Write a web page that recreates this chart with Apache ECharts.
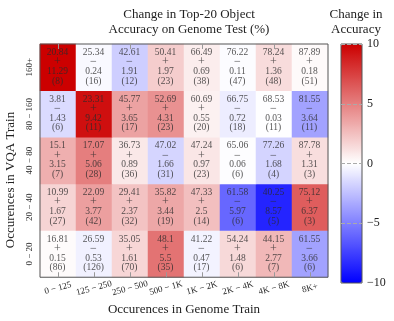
<!DOCTYPE html>
<html>
<head>
<meta charset="utf-8">
<script src="https://cdn.jsdelivr.net/npm/echarts@6/dist/echarts.min.js"></script>
<style>
  html, body { margin: 0; padding: 0; background: #fff; }
  #chart { width: 394px; height: 321px; }
</style>
</head>
<body>
<div id="chart"></div>
<script>
// categories
const xCats = ['0 − 125', '125 − 250', '250 − 500', '500 − 1K', '1K − 2K', '2K − 4K', '4K − 8K', '8K+'];
const yCats = ['0 − 20', '20 − 40', '40 − 80', '80 − 160', '160+']; // bottom -> top

// top-20 accuracy (rows bottom -> top)
const accuracy = [
  [16.81, 26.59, 35.05, 48.1, 41.22, 54.24, 44.15, 61.55],
  [10.99, 22.09, 29.41, 35.82, 47.33, 61.58, 40.25, 75.12],
  [15.1, 17.07, 36.73, 47.02, 47.24, 65.06, 77.26, 87.78],
  [3.81, 23.31, 45.77, 52.69, 60.69, 66.75, 68.53, 81.55],
  [20.84, 25.34, 42.61, 50.41, 66.49, 76.22, 78.24, 87.89]
]

// change in accuracy (signed)
const change = [
  [0.15, -0.53, 1.61, 5.5, -0.47, 1.48, 2.77, -3.66],
  [1.67, 3.77, 2.37, 3.44, 2.5, -5.97, -8.57, 6.37],
  [3.15, 5.06, 0.89, -1.66, 0.97, -0.06, -1.68, 1.31],
  [-1.43, 9.42, 3.65, 4.31, 0.55, -0.72, -0.03, -3.64],
  [11.29, -0.24, -1.91, 1.97, 0.69, -0.11, 1.36, 0.18]
]

// number of objects
const counts = [
  [86, 126, 70, 35, 17, 6, 7, 6],
  [27, 42, 32, 19, 14, 6, 5, 3],
  [7, 28, 36, 31, 23, 6, 4, 3],
  [6, 11, 17, 23, 20, 18, 11, 11],
  [8, 16, 12, 23, 38, 47, 48, 51]
]

const colorMin = -10
const colorMax = 10

const serif = 'Liberation Serif'
const textCol = '#2a2a2a'

// heatmap data: [x, y, change, accuracy, count]
const cells = []
for (let r = 0; r < yCats.length; r++) {
  for (let c = 0; c < xCats.length; c++) {
    cells.push([c, r, change[r][c], accuracy[r][c], counts[r][c]])
  }
}

const chart = echarts.init(document.getElementById('chart'))

const option = {
  animation: false,
  backgroundColor: '#fff',
  title: [
    {
      text: 'Change in Top-20 Object\nAccuracy on Genome Test (%)',
      left: 184,
      textAlign: 'center',
      top: 2,
      textStyle: { fontFamily: serif, fontWeight: 'normal', fontSize: 13, lineHeight: 15, color: '#222' }
    },
    {
      text: 'Change in\nAccuracy',
      left: 351,
      textAlign: 'center',
      top: 2,
      textStyle: { fontFamily: serif, fontWeight: 'normal', fontSize: 13, lineHeight: 15, color: '#222' }
    }
  ],
  graphic: [
    {
      type: 'text',
      x: 4,
      y: 180,
      rotation: Math.PI / 2,
      style: {
        text: 'Occurences in VQA Train',
        font: '13px "Liberation Serif"',
        fill: '#222',
        align: 'center',
        verticalAlign: 'top'
      }
    }
  ],
  grid: [
    { left: 40, right: 66, top: 44, bottom: 38, show: true, borderColor: '#555', borderWidth: 1, z: 10 },
    { left: 341, width: 21, top: 44, height: 239, show: true, borderColor: '#555', borderWidth: 1, z: 10 }
  ],
  xAxis: [
    {
      type: 'category',
      data: xCats,
      gridIndex: 0,
      z: 10,
      name: 'Occurences in Genome Train',
      nameLocation: 'middle',
      nameGap: 24,
      nameTextStyle: { fontFamily: serif, fontSize: 13, color: '#222' },
      axisLine: { show: false },
      axisTick: { show: true, inside: true, alignWithLabel: true, length: 5, lineStyle: { color: '#999' } },
      axisLabel: {
        interval: 0,
        rotate: 15, align: 'center', verticalAlign: 'middle', margin: 11,
        fontFamily: serif, fontSize: 9, color: textCol
      }
    },
    {
      type: 'category',
      data: xCats,
      gridIndex: 0,
      position: 'top',
      z: 10,
      axisLine: { show: false },
      axisTick: { show: true, inside: true, alignWithLabel: true, length: 5, lineStyle: { color: '#999' } },
      axisLabel: { show: false }
    },
    { type: 'value', gridIndex: 1, show: false, min: 0, max: 1 }
  ],
  yAxis: [
    {
      type: 'category',
      data: yCats,
      gridIndex: 0,
      axisLine: { show: false },
      axisTick: { show: false },
      axisLabel: {
        interval: 0,
        rotate: 90, align: 'center', verticalAlign: 'middle', margin: 10,
        fontFamily: serif, fontSize: 9, color: textCol
      }
    },
    {
      type: 'value',
      gridIndex: 1,
      position: 'right',
      min: colorMin,
      max: colorMax,
      interval: 5,
      z: 10,
      axisLine: { show: false },
      axisTick: { show: false },
      splitLine: { show: true, lineStyle: { color: '#aaa', type: 'dashed', width: 1 } },
      axisLabel: {
        margin: 5,
        fontFamily: serif, fontSize: 12, color: '#222',
        formatter: v => (v < 0 ? '−' + Math.abs(v) : String(v))
      }
    }
  ],
  visualMap: {
    type: 'continuous',
    seriesIndex: 0,
    dimension: 2,
    min: colorMin,
    max: colorMax,
    calculable: false,
    orient: 'vertical',
    left: 341,
    top: 44,
    padding: 0,
    itemWidth: 21,
    itemHeight: 239,
    text: null,
    z: 2,
    inRange: { color: ['#0000ff', '#ffffff', '#cc0000'] }
  },
  series: [
    {
      type: 'heatmap',
      xAxisIndex: 0,
      yAxisIndex: 0,
      data: cells,
      label: { show: false },
      itemStyle: { borderWidth: 0 }
    },
    {
      // cell texts drawn as labels of invisible points
      type: 'scatter',
      xAxisIndex: 0,
      yAxisIndex: 0,
      symbol: 'circle',
      symbolSize: 1,
      itemStyle: { color: 'rgba(0,0,0,0)' },
      z: 5,
      silent: true,
      data: cells,
      label: {
        show: true,
        position: [0, 0],
        align: 'center',
        verticalAlign: 'middle',
        fontFamily: serif,
        fontSize: 9.5,
        lineHeight: 9.5,
        color: textCol,
        textBorderWidth: 0,
        formatter: p => {
          const d = p.data
          const sign = d[2] >= 0 ? '+' : '−'
          return '{n|' + d[3] + '}\n{s|' + sign + '}\n{n|' + Math.abs(d[2]) + '}\n{n|(' + d[4] + ')}'
        },
        rich: {
          n: { fontFamily: serif, fontSize: 9.5, lineHeight: 9.5, color: textCol, textBorderWidth: 0 },
          s: { fontFamily: serif, fontSize: 12, lineHeight: 9.5, color: textCol, textBorderWidth: 0 }
        }
      }
    }
  ]
}

chart.setOption(option)
</script>
</body>
</html>
